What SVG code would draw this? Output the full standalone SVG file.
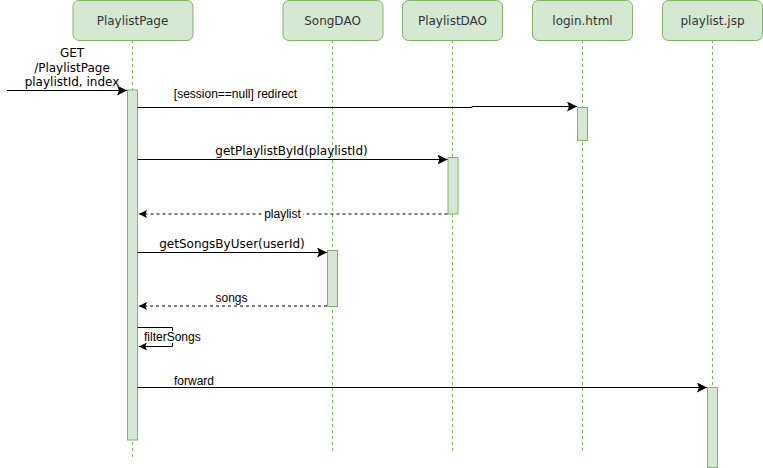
<svg xmlns="http://www.w3.org/2000/svg" width="763" height="468" viewBox="0 0 763 468">
<defs>
<marker id="block" viewBox="0 0 10 10" refX="10" refY="5" markerWidth="10" markerHeight="10" markerUnits="userSpaceOnUse" orient="auto">
<path d="M0 0 L10 5 L0 10 L2 5 Z" fill="#000"/>
</marker>
<marker id="open" viewBox="0 0 10 10" refX="10" refY="5" markerWidth="8" markerHeight="8" markerUnits="userSpaceOnUse" orient="auto">
<path d="M0 0 L10 5 L0 10 L2 5 Z" fill="#000"/>
</marker>
</defs>
<style>
.box{fill:#d5e8d4;stroke:#82b366;stroke-width:1}
.life{stroke:#82b366;stroke-width:1;stroke-dasharray:3 3;fill:none}
.act{fill:#d5e8d4;stroke:#82b366;stroke-width:1}
.lbl{font-family:"DejaVu Sans",Verdana,sans-serif;font-size:12px;fill:#333;text-anchor:middle}
.v{font-family:"DejaVu Sans",Verdana,sans-serif;font-size:12px;fill:#000}
.a{font-family:"Liberation Sans",Arial,sans-serif;font-size:12px;fill:#000}
.msg{stroke:#000;stroke-width:1;fill:none}
.ret{stroke:#000;stroke-width:1;fill:none;stroke-dasharray:3 3}
</style>
<rect width="763" height="468" fill="#fff"/>
<g id="PlaylistPage">
<line class="life" x1="132.5" y1="40" x2="132.5" y2="458"/>
<rect class="box" x="73" y="0.5" width="120" height="40" rx="6"/>
<text class="lbl" x="132.5" y="25">PlaylistPage</text>
<rect class="act" x="127.5" y="90" width="10" height="350"/>
</g>
<g id="SongDAO">
<line class="life" x1="332.5" y1="40" x2="332.5" y2="451"/>
<rect class="box" x="283" y="0.5" width="100" height="40" rx="6"/>
<text class="lbl" x="332.5" y="25">SongDAO</text>
<rect class="act" x="327.5" y="250.5" width="10" height="56"/>
</g>
<g id="PlaylistDAO">
<line class="life" x1="452.5" y1="40" x2="452.5" y2="451"/>
<rect class="box" x="402.5" y="0.5" width="100" height="40" rx="6"/>
<text class="lbl" x="452.5" y="25">PlaylistDAO</text>
<rect class="act" x="448" y="157.5" width="10" height="56.5"/>
</g>
<g id="login">
<line class="life" x1="582.5" y1="40" x2="582.5" y2="451"/>
<rect class="box" x="532.5" y="0.5" width="100" height="40" rx="6"/>
<text class="lbl" x="582.5" y="25">login.html</text>
<rect class="act" x="577.5" y="107.5" width="10" height="33"/>
</g>
<g id="playlistjsp">
<line class="life" x1="712.5" y1="40" x2="712.5" y2="451"/>
<rect class="box" x="662.5" y="0.5" width="100" height="40" rx="6"/>
<text class="lbl" x="712.5" y="25">playlist.jsp</text>
<rect class="act" x="707.5" y="387.5" width="10" height="80"/>
</g>
<g id="connectors">
<line class="msg" x1="7" y1="90.5" x2="127" y2="90.5" marker-end="url(#block)"/>
<text class="v" x="72" y="57" text-anchor="middle">GET</text>
<text class="v" x="72" y="71.5" text-anchor="middle">/PlaylistPage</text>
<text class="v" x="72" y="86" text-anchor="middle">playlistId, index</text>

<path class="msg" d="M137.5 107.5 L472 107.5 L472 106.5 L577 106.5" marker-end="url(#block)"/>
<text class="a" x="235.5" y="98" text-anchor="middle">[session==null] redirect</text>

<line class="msg" x1="137.5" y1="159.5" x2="447.5" y2="159.5" marker-end="url(#block)"/>
<text class="v" x="291.5" y="155" text-anchor="middle">getPlaylistById(playlistId)</text>

<line class="ret" x1="447.5" y1="214" x2="139" y2="214" marker-end="url(#open)"/>
<rect x="262" y="206" width="41" height="14" fill="#fff"/>
<text class="a" x="282.5" y="218" text-anchor="middle">playlist</text>

<line class="msg" x1="137.5" y1="252.5" x2="327" y2="252.5" marker-end="url(#block)"/>
<text class="v" x="232" y="248" text-anchor="middle">getSongsByUser(userId)</text>

<line class="ret" x1="327" y1="306" x2="139" y2="306" marker-end="url(#open)"/>
<text class="a" x="231.5" y="302" text-anchor="middle">songs</text>

<path class="msg" d="M137.5 327.5 L172.5 327.5 L172.5 346.5 L139 346.5" marker-end="url(#open)"/>
<rect x="143" y="331" width="58" height="12" fill="#fff"/>
<text class="a" x="144" y="341">filterSongs</text>

<line class="msg" x1="137.5" y1="387.5" x2="707" y2="387.5" marker-end="url(#block)"/>
<text class="a" x="174" y="385">forward</text>
</g>
</svg>
